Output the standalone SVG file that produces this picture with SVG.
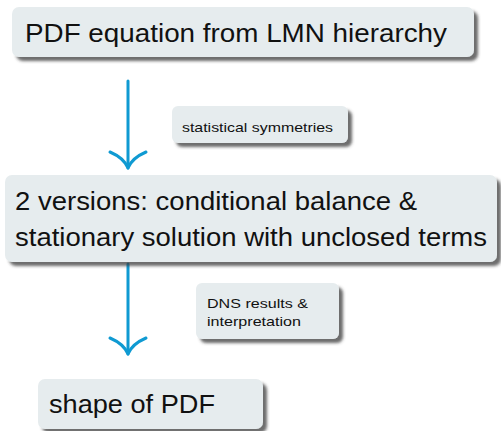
<svg xmlns="http://www.w3.org/2000/svg" width="501" height="431" viewBox="0 0 501 431">
  <defs>
    <filter id="shadow" x="-10%" y="-20%" width="125%" height="160%">
      <feGaussianBlur in="SourceAlpha" stdDeviation="1.8"/>
      <feOffset dx="4" dy="4" result="blur"/>
      <feFlood flood-color="#3c3c3c" flood-opacity="0.75"/>
      <feComposite in2="blur" operator="in"/>
      <feMerge>
        <feMergeNode/>
        <feMergeNode in="SourceGraphic"/>
      </feMerge>
    </filter>
  </defs>
  <style>
    .box { fill: #e6ecee; filter: url(#shadow); }
    .big { font-family: "Liberation Sans", "DejaVu Sans", sans-serif; font-size: 25px; fill: #111; }
    .small { font-family: "Liberation Sans", "DejaVu Sans", sans-serif; font-size: 13px; fill: #111; }
    .conn { stroke: #0f9ad2; stroke-width: 3; fill: none; stroke-linecap: round; stroke-linejoin: round; }
  </style>

  <rect width="501" height="431" fill="#ffffff"/>

  <!-- connectors -->
  <g id="connectors">
    <path class="conn" d="M128 81 V168"/>
    <path class="conn" d="M110 152 Q124 158 128 168 Q132 158 146 152"/>
    <path class="conn" d="M128 264 V354"/>
    <path class="conn" d="M110 338 Q124 344 128 354 Q132 344 146 338"/>
  </g>

  <!-- edge labels -->
  <g id="label-symmetries">
    <rect class="box" x="172" y="106" width="176" height="37" rx="6"/>
    <text class="small" x="182" y="132" textLength="151" lengthAdjust="spacingAndGlyphs">statistical symmetries</text>
  </g>
  <g id="label-dns">
    <rect class="box" x="196" y="283" width="143" height="56" rx="6"/>
    <text class="small" x="207" y="308" textLength="101" lengthAdjust="spacingAndGlyphs">DNS results &amp;</text>
    <text class="small" x="207" y="326" textLength="94" lengthAdjust="spacingAndGlyphs">interpretation</text>
  </g>

  <!-- nodes -->
  <g id="node-pdf-equation">
    <rect class="box" x="12" y="7" width="462" height="50" rx="7"/>
    <text class="big" x="25" y="42" textLength="422" lengthAdjust="spacingAndGlyphs">PDF equation from LMN hierarchy</text>
  </g>
  <g id="node-versions">
    <rect class="box" x="5" y="175" width="492" height="87" rx="7"/>
    <text class="big" x="15" y="210" textLength="402" lengthAdjust="spacingAndGlyphs">2 versions: conditional balance &amp;</text>
    <text class="big" x="15" y="246" textLength="472" lengthAdjust="spacingAndGlyphs">stationary solution with unclosed terms</text>
  </g>
  <g id="node-shape">
    <rect class="box" x="38" y="379" width="225" height="50" rx="7"/>
    <text class="big" x="49" y="413" textLength="166" lengthAdjust="spacingAndGlyphs">shape of PDF</text>
  </g>
</svg>
